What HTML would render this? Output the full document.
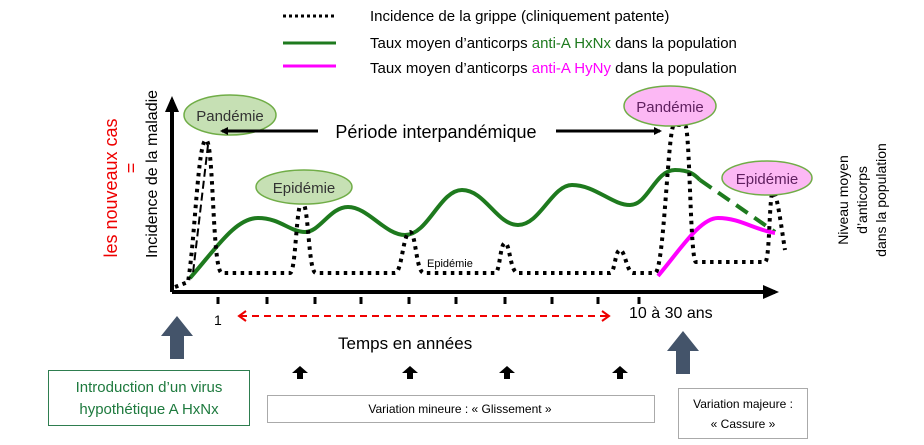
<!DOCTYPE html>
<html><head><meta charset="utf-8"><style>body{margin:0;background:#fff}svg{display:block;font-family:"Liberation Sans",sans-serif}</style></head><body>
<svg width="924" height="445" viewBox="0 0 924 445">
<defs>
<marker id="ah" markerWidth="8" markerHeight="8" refX="6" refY="4" orient="auto" markerUnits="userSpaceOnUse"><path d="M0,0 L8,4 L0,8 z" fill="#000"/></marker>
<marker id="big" markerWidth="16" markerHeight="14" refX="12" refY="7" orient="auto" markerUnits="userSpaceOnUse"><path d="M0,0 L16,7 L0,14 z" fill="#000"/></marker>
</defs>
<!-- legend -->
<line x1="283" y1="16" x2="336" y2="16" stroke="#000" stroke-width="3" stroke-dasharray="3,3"/>
<line x1="283" y1="43" x2="336" y2="43" stroke="#1e7a1e" stroke-width="3"/>
<line x1="283" y1="66" x2="336" y2="66" stroke="#f0f" stroke-width="3"/>
<text x="370" y="21" font-size="15">Incidence de la grippe (cliniquement patente)</text>
<text x="370" y="48" font-size="15">Taux moyen d’anticorps <tspan fill="#1e7a1e">anti-A HxNx</tspan> dans la population</text>
<text x="370" y="73" font-size="15">Taux moyen d’anticorps <tspan fill="#f0f">anti-A HyNy</tspan> dans la population</text>
<!-- axes -->
<line x1="172" y1="292" x2="172" y2="100" stroke="#000" stroke-width="4" marker-end="url(#big)"/>
<line x1="172" y1="292" x2="775" y2="292" stroke="#000" stroke-width="4" marker-end="url(#big)"/>
<g stroke="#000" stroke-width="3">
<line x1="218" y1="297" x2="218" y2="304"/><line x1="267" y1="297" x2="267" y2="304"/><line x1="315" y1="297" x2="315" y2="304"/><line x1="361" y1="297" x2="361" y2="304"/><line x1="409" y1="297" x2="409" y2="304"/><line x1="456" y1="297" x2="456" y2="304"/><line x1="505" y1="297" x2="505" y2="304"/><line x1="552" y1="297" x2="552" y2="304"/><line x1="598" y1="297" x2="598" y2="304"/><line x1="639" y1="297" x2="639" y2="304"/>
</g>
<text x="214" y="325" font-size="14">1</text>
<text x="629" y="318" font-size="16">10 à 30 ans</text>
<line x1="240" y1="316" x2="608" y2="316" stroke="#e00" stroke-width="2" stroke-dasharray="7,5"/>
<path d="M246,311 L239,316 L246,321 M602,311 L609,316 L602,321" fill="none" stroke="#e00" stroke-width="2"/>
<text x="338" y="349" font-size="17">Temps en années</text>
<!-- side labels -->
<text transform="translate(117,188) rotate(-90)" text-anchor="middle" font-size="18" fill="#e00">les nouveaux cas</text>
<text transform="translate(137,168) rotate(-90)" text-anchor="middle" font-size="18" fill="#e00">=</text>
<text transform="translate(157,174) rotate(-90)" text-anchor="middle" font-size="16">Incidence de la maladie</text>
<g font-size="14" text-anchor="middle">
<text transform="translate(848,200) rotate(-90)">Niveau moyen</text>
<text transform="translate(867,200) rotate(-90)">d’anticorps</text>
<text transform="translate(886,200) rotate(-90)">dans la population</text>
</g>
<!-- green curve -->
<path d="M190,278 C215,250 235,218 258,218 C280,218 290,232 305,232 C320,232 330,207 348,207 C368,207 385,235 405,235 C428,235 440,190 462,190 C485,190 497,225 518,225 C540,225 552,185 572,185 C595,185 612,205 630,205 C648,205 655,170 675,170 C690,170 695,175 700,180" fill="none" stroke="#1e7a1e" stroke-width="4"/>
<path d="M700,180 L775,232" fill="none" stroke="#1e7a1e" stroke-width="4" stroke-dasharray="14,8"/>
<path d="M658,276 C680,250 700,218 718,218 C740,218 755,230 775,233" fill="none" stroke="#f0f" stroke-width="4"/>
<!-- dotted incidence -->
<path d="M175,287 L188,282 C195,240 198,140 206,140 C214,140 212,273 222,273 L290,273 C296,273 296,202 302,202 C309,202 308,273 316,273 L395,273 C402,273 403,232 410,232 C416,232 416,273 424,273 L495,273 C500,273 500,243 505,243 C510,243 510,273 518,273 L610,273 C615,273 615,250 620,250 C625,250 627,273 633,273 L655,273 C664,273 668,125 674,125 C678,125 681,125 685,125 C690,125 690,262 696,262 L765,262 C770,262 769,192 773,192 C777,192 781,225 785,250" fill="none" stroke="#000" stroke-width="4" stroke-dasharray="3.5,4.5"/>
<path d="M208,145 L193,273" fill="none" stroke="#000" stroke-width="2" stroke-dasharray="8,4"/>
<text x="427" y="267" font-size="11">Epidémie</text>
<!-- bubbles -->
<ellipse cx="230" cy="115" rx="46" ry="20" fill="#c6e0b4" stroke="#70ad47" stroke-width="1.5"/>
<text x="230" y="121" font-size="15" text-anchor="middle" fill="#333">Pandémie</text>
<ellipse cx="304" cy="187" rx="48" ry="17" fill="#c6e0b4" stroke="#70ad47" stroke-width="1.5"/>
<text x="304" y="193" font-size="15" text-anchor="middle" fill="#333">Epidémie</text>
<ellipse cx="670" cy="106" rx="46" ry="20" fill="#fcb8f4" stroke="#70ad47" stroke-width="1.5"/>
<text x="670" y="112" font-size="15" text-anchor="middle" fill="#602060">Pandémie</text>
<ellipse cx="767" cy="178" rx="45" ry="17" fill="#fcb8f4" stroke="#70ad47" stroke-width="1.5"/>
<text x="767" y="184" font-size="15" text-anchor="middle" fill="#602060">Epidémie</text>
<!-- période -->
<line x1="318" y1="131" x2="222" y2="131" stroke="#000" stroke-width="3" marker-end="url(#ah)"/>
<line x1="556" y1="131" x2="660" y2="131" stroke="#000" stroke-width="3" marker-end="url(#ah)"/>
<text x="436" y="138" font-size="18" text-anchor="middle">Période  interpandémique</text>
<!-- big arrows -->
<path d="M170,359 L170,336 L161,336 L177,316 L193,336 L184,336 L184,359 z" fill="#44546a"/>
<path d="M676,374 L676,351 L667,351 L683,331 L699,351 L690,351 L690,374 z" fill="#44546a"/>
<g fill="#000">
<path d="M297,379 L297,373 L292,373 L300,366 L308,373 L303,373 L303,379 z"/>
<path d="M407,379 L407,373 L402,373 L410,366 L418,373 L413,373 L413,379 z"/>
<path d="M504,379 L504,373 L499,373 L507,366 L515,373 L510,373 L510,379 z"/>
<path d="M617,379 L617,373 L612,373 L620,366 L628,373 L623,373 L623,379 z"/>
</g>
<!-- boxes -->
<rect x="48.5" y="370.5" width="201" height="55" fill="#fff" stroke="#2e7d4f" stroke-width="1"/>
<text x="149" y="392" font-size="15" text-anchor="middle" fill="#1e7a3e">Introduction d’un virus</text>
<text x="149" y="414" font-size="15" text-anchor="middle" fill="#1e7a3e">hypothétique A HxNx</text>
<rect x="267.5" y="395.5" width="387" height="27" fill="#fff" stroke="#aaa" stroke-width="1"/>
<text x="460" y="413" font-size="12" text-anchor="middle">Variation mineure : « Glissement »</text>
<rect x="678.5" y="388.5" width="129" height="50" fill="#fff" stroke="#aaa" stroke-width="1"/>
<text x="743" y="408" font-size="12" text-anchor="middle">Variation majeure :</text>
<text x="743" y="428" font-size="12" text-anchor="middle">« Cassure »</text>
</svg>
</body></html>
